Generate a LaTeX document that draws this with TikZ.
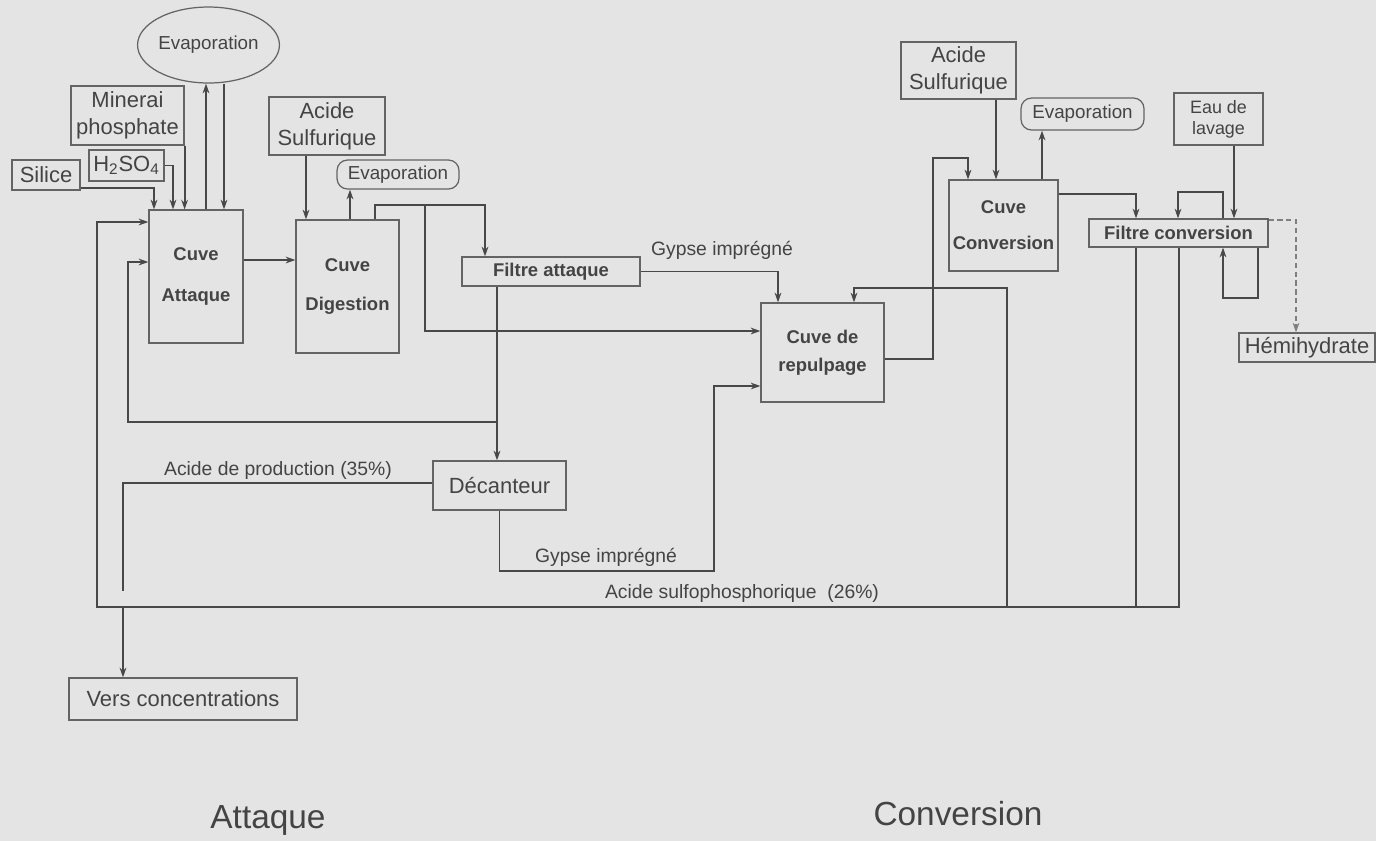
\documentclass[tikz,border=0pt]{standalone}
\usepackage{fontspec}
\setmainfont{Liberation Sans}
\usepackage{tikz}
\usetikzlibrary{arrows.meta,shapes.geometric}

\definecolor{fond}{HTML}{E4E4E4}
\definecolor{trait}{HTML}{484848}
\definecolor{bord}{HTML}{646464}
\definecolor{encre}{HTML}{444444}

\begin{document}
\begin{tikzpicture}[>={Stealth[length=5.5pt,width=3.8pt]},x=0.02cm,y=-0.02cm,line width=1.1pt,color=trait]
	\tikzstyle{box}=[draw=bord,rectangle,line width=0.7pt,inner sep=0pt,align=center,text=encre,
	                 font=\fontsize{12.5}{15.5}\selectfont]
	\tikzstyle{cuve}=[box,font=\bfseries\fontsize{10.5}{12.6}\selectfont]
	\tikzstyle{evap}=[box,rounded corners=6pt,font=\fontsize{10.7}{13}\selectfont]
	\tikzstyle{flux}=[text=encre,inner sep=0pt,font=\fontsize{11}{13}\selectfont]
	\tikzstyle{titre}=[text=encre,inner sep=0pt,font=\fontsize{19}{23}\selectfont]
	\tikzstyle{mince}=[line width=0.75pt]

	\useasboundingbox (0,0) rectangle (1376,840);
	\fill[fond] (-5,-5) rectangle (1381,845);

	\node[box,ellipse,minimum width=2.26cm,minimum height=1.52cm,
	      font=\fontsize{10.7}{13}\selectfont]                       (evap1)      at (208.5,45)    {Evaporation};
	\node[box,minimum width=2.26cm,minimum height=1.18cm]           (minerai)    at (127.5,115.5) {Minerai\\phosphate};
	\node[box,minimum width=1.5cm,minimum height=0.62cm]            (h2so4)      at (126.5,165.5) {H\textsubscript{2}SO\textsubscript{4}};
	\node[box,minimum width=1.36cm,minimum height=0.6cm]            (silice)     at (46,175)      {Silice};
	\node[cuve,minimum width=1.88cm,minimum height=2.66cm]          (attaque)    at (196,276.5)   {Cuve\\[10.6pt]Attaque};
	\node[box,minimum width=2.32cm,minimum height=1.16cm]           (acide1)     at (327,126)     {Acide\\Sulfurique};
	\node[evap,minimum width=2.44cm,minimum height=0.58cm]          (evap2)      at (398,174.5)   {Evaporation};
	\node[cuve,minimum width=2.06cm,minimum height=2.66cm]          (digestion)  at (347.5,286.5) {Cuve\\[10pt]Digestion};
	\node[cuve,minimum width=3.56cm,minimum height=0.58cm]          (filtreA)    at (551,271.5)   {Filtre attaque};
	\node[box,minimum width=2.66cm,minimum height=0.98cm]           (decanteur)  at (499.5,485.5) {Décanteur};
	\node[box,minimum width=4.56cm,minimum height=0.84cm]           (vers)       at (183,699)     {Vers concentrations};
	\node[cuve,minimum width=2.46cm,minimum height=1.98cm]          (repulpage)  at (822.5,352.5) {Cuve de\\[3.3pt]repulpage};
	\node[cuve,minimum width=2.18cm,minimum height=1.82cm]          (conversion) at (1003.5,225.5){Cuve\\[7.8pt]Conversion};
	\node[box,minimum width=2.3cm,minimum height=1.14cm]            (acide2)     at (958.5,70.5)  {Acide\\Sulfurique};
	\node[evap,minimum width=2.46cm,minimum height=0.64cm]          (evap3)      at (1082.5,114)  {Evaporation};
	\node[box,minimum width=1.78cm,minimum height=1.04cm,
	      font=\fontsize{10.2}{12}\selectfont]                       (eau)        at (1218.5,119)  {Eau de\\lavage};
	\node[cuve,minimum width=3.58cm,minimum height=0.56cm]          (filtreC)    at (1178.5,233)  {Filtre conversion};
	\node[box,minimum width=2.72cm,minimum height=0.58cm]           (hemi)       at (1307,347.5)  {Hémihydrate};

	\node[flux] (gypse1) at (722,250) {Gypse imprégné};
	\node[flux] (prod)   at (278,470) {Acide de production (35\%)};
	\node[flux] (gypse2) at (606,557) {Gypse imprégné};
	\node[flux] (sulfo)  at (742,593) {Acide sulfophosphorique\ \ (26\%)};
	\node[titre,anchor=base] (tattaque)    at (268,828) {Attaque};
	\node[titre,anchor=base] (tconversion) at (958,825) {Conversion};

	\coordinate (jdig)  at (425,205);
	\coordinate (jfil)  at (497,422);
	\coordinate (jvers) at (123,607);
	\coordinate (jrep)  at (1007,607);
	\coordinate (fprod) at (123,591);

	\draw[->] (silice.east |- 0,188) -| (154,0 |- attaque.north);
	\draw[->] (h2so4.east) -| (173,0 |- attaque.north);
	\draw[->] (minerai.south east) -- (minerai.south east |- attaque.north);
	\draw[->] (206,0 |- attaque.north) -- (206,0 |- evap1.south);
	\draw[->] (224,0 |- evap1.south) -- (224,0 |- attaque.north);
	\draw[->] (attaque.east |- 0,260) -- (digestion.west |- 0,260);
	\draw[->] (306,0 |- acide1.south) -- (306,0 |- digestion.north);
	\draw[->] (350,0 |- digestion.north) -- (350,0 |- evap2.south);
	\draw[->] (375,0 |- digestion.north) |- (jdig) -| (485,0 |- filtreA.north);
	\draw[->] (jdig) |- (repulpage.west |- 0,331);
	\draw[->] (filtreA.east) -| (778,0 |- repulpage.north);
	\draw[->] (497,0 |- filtreA.south) -- (497,0 |- decanteur.north);
	\draw[->] (jfil) -| (128,262) -- (attaque.west |- 0,262);
	\draw     (decanteur.west |- 0,483) -| (fprod);
	\draw[->] (jvers) -- (jvers |- vers.north);
	\draw[->,mince] (decanteur.south) |- (714,571) |- (repulpage.west |- 0,386);

	\draw[->] (repulpage.east |- 0,359) -| (933,158) -| (968,0 |- conversion.north);
	\draw[->,mince] (996,0 |- acide2.south) -- (996,0 |- conversion.north);
	\draw[->] (1042,0 |- conversion.north) -- (1042,0 |- evap3.south);
	\draw[->] (conversion.east |- 0,194) -| (1136,0 |- filtreC.north);
	\draw[->] (1234,0 |- eau.south) -- (1234,0 |- filtreC.north);
	\draw[->,mince] (1223,0 |- filtreC.north) |- (1178,192) -- (1178,0 |- filtreC.north);
	\draw[->,mince] (1258,0 |- filtreC.south) |- (1223,298) -- (1223,0 |- filtreC.south);
	\draw[->,mince,densely dashed,trait!70] (filtreC.east |- 0,220) -| (1296,0 |- hemi.north);
	\draw     (1136,0 |- filtreC.south) -- (1136,0 |- jrep);
	\draw[->] (1179,0 |- filtreC.south) |- (97,607) |- (attaque.west |- 0,222);
	\draw[->] (jrep) |- (854,288) -- (854,0 |- repulpage.north);
\end{tikzpicture}
\end{document}
